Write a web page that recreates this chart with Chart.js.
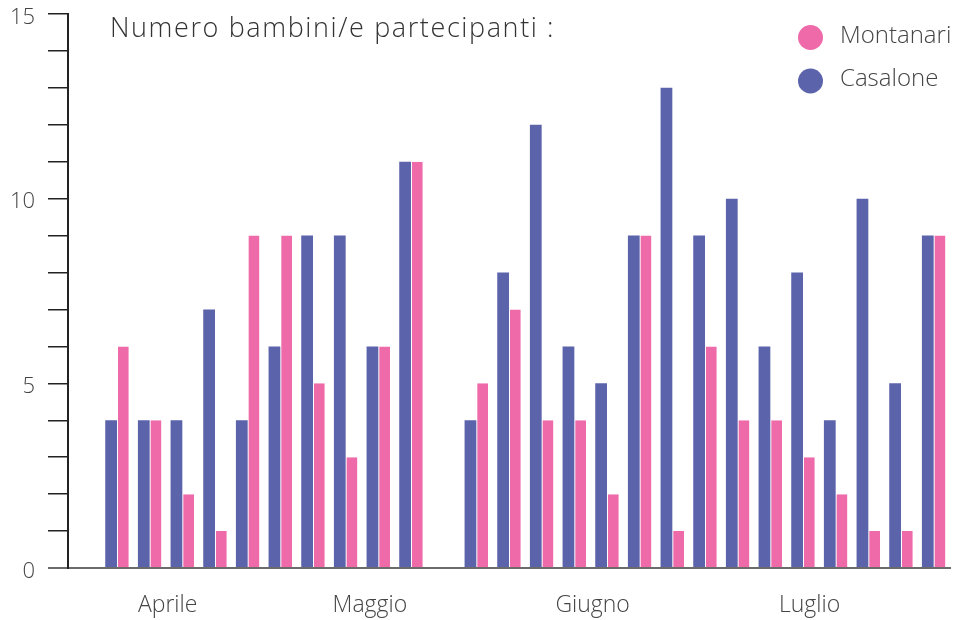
<!DOCTYPE html>
<html>
<head>
<meta charset="utf-8">
<script src="https://cdn.jsdelivr.net/npm/chart.js@4"></script>
<style>
  body { margin: 0; background: #fff; }
  #wrap { width: 956px; height: 620px; position: relative; }
</style>
</head>
<body>
<div id="wrap"><canvas id="chart"></canvas></div>
<script>
// --- DATI ---
// slot vuoti (null) all'inizio e tra maggio e giugno
const slots = ['', '1', '2', '3', '4', '5', '6', '7', '8', '9', '10', '',
  '11', '12', '13', '14', '15', '16', '17', '18', '19', '20', '21', '22', '23', '24', '25'];
const casalone = [null, 4, 4, 4, 7, 4, 6, 9, 9, 6, 11, null,
  4, 8, 12, 6, 5, 9, 13, 9, 10, 6, 8, 4, 10, 5, 9];
const montanari = [null, 6, 4, 2, 1, 9, 9, 5, 3, 6, 11, null,
  5, 7, 4, 4, 2, 9, 1, 6, 4, 4, 3, 2, 1, 1, 9];
const months = ['Aprile', 'Maggio', 'Giugno', 'Luglio'];
const monthTickAt = [2.55, 8.74, 15.56, 22.2]; // in unità di slot sull'asse x
const yTicks = [0, 5, 10, 15];
const chartTitle = 'Numero bambini/e partecipanti :';

const BLUE = '#5b63ab';
const PINK = '#ee6aa9';
const FONT = "'Open Sans', 'DejaVu Sans', sans-serif";

// titolo, legenda ed etichette dei mesi
const overlay = {
  id: 'overlay',
  afterDraw(chart) {
    const ctx = chart.ctx;
    const x = chart.scales.x;
    ctx.save();
    ctx.textAlign = 'left';
    ctx.textBaseline = 'alphabetic';

    ctx.fillStyle = '#333';
    ctx.font = `300 27px ${FONT}`;
    ctx.letterSpacing = '1.6px';
    ctx.fillText(chartTitle, 110, 37);
    ctx.letterSpacing = '0px';

    const items = chart.data.datasets.slice().reverse();
    items.forEach((ds, i) => {
      const cy = 37.5 + i * 43.5;
      ctx.beginPath();
      ctx.arc(810.5, cy, 12.5, 0, Math.PI * 2);
      ctx.fillStyle = ds.backgroundColor;
      ctx.fill();
      ctx.fillStyle = '#444';
      ctx.font = `300 24px ${FONT}`;
      ctx.fillText(ds.label, 840, cy + 5);
    });

    ctx.textAlign = 'center';
    ctx.fillStyle = '#444';
    ctx.font = `300 23px ${FONT}`;
    months.forEach((m, i) => {
      ctx.fillText(m, x.getPixelForValue(monthTickAt[i]), x.bottom + 43.5);
    });
    ctx.restore();
  }
};

new Chart(document.getElementById('chart'), {
  type: 'bar',
  data: {
    labels: slots,
    datasets: [
      {
        label: 'Casalone',
        data: casalone,
        backgroundColor: BLUE,
        borderWidth: 0
      },
      {
        label: 'Montanari',
        data: montanari,
        backgroundColor: PINK,
        borderColor: '#fff',
        borderWidth: { left: 1, right: 0, top: 0, bottom: 0 }
      }
    ]
  },
  options: {
    responsive: true,
    maintainAspectRatio: false,
    animation: false,
    categoryPercentage: 0.72,
    barPercentage: 1,
    layout: { padding: { left: 10, top: 14, right: 6, bottom: 52 } },
    scales: {
      x: {
        z: 1,
        ticks: { display: false },
        grid: { display: false, drawTicks: false },
        border: { display: true, color: 'rgba(70,70,70,0.8)', width: 2 }
      },
      y: {
        min: 0,
        max: 15,
        afterFit: s => { s.width = 58; s.paddingTop = 0; s.paddingBottom = 0; },
        ticks: {
          stepSize: 1,
          padding: 13,
          labelOffset: 3.5,
          color: '#444',
          font: { family: FONT, size: 22, weight: 300 },
          callback: v => yTicks.includes(v) ? v : ''
        },
        grid: {
          drawOnChartArea: false,
          tickLength: 20,
          color: c => c.tick && c.tick.value === 0 ? 'rgba(70,70,70,0.8)' : '#222',
          lineWidth: c => c.tick && c.tick.value === 0 ? 2 : 1.5
        },
        border: { color: '#222', width: 2 }
      }
    },
    plugins: {
      legend: { display: false },
      tooltip: { enabled: false }
    }
  },
  plugins: [overlay]
});
</script>
</body>
</html>
